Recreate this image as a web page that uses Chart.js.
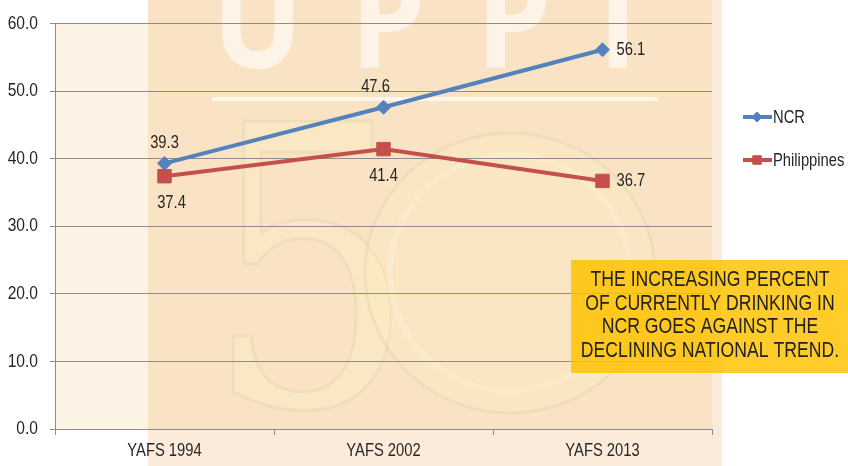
<!DOCTYPE html>
<html>
<head>
<meta charset="utf-8">
<script src="https://cdn.jsdelivr.net/npm/chart.js@4/dist/chart.umd.min.js"></script>
<style>
  html, body { margin: 0; padding: 0; background: #fff; }
  #wrap { width: 848px; height: 466px; position: relative; }
</style>
</head>
<body>
<div id="wrap"><canvas id="drinkChart" width="848" height="466"></canvas></div>
<script>
// YAFS: percent currently drinking
const surveys = ['YAFS 1994', 'YAFS 2002', 'YAFS 2013'];
const ncrValues = [39.3, 47.6, 56.1];
const phValues = [37.4, 41.4, 36.7];
const yTicks = [0, 10, 20, 30, 40, 50, 60];
const noteLines = [
    'THE INCREASING PERCENT',
    'OF CURRENTLY DRINKING IN',
    'NCR GOES AGAINST THE',
    'DECLINING NATIONAL TREND.'
];

const FONT = '"Liberation Sans", Arial, sans-serif';
const NARROW = 0.82;   // squeeze text horizontally, like a narrow face
const TEXT = '#262626';
const GRID = '#8c8c8c';

function narrowText(ctx, text, x, y, size, align) {
    ctx.save();
    ctx.font = size + 'px ' + FONT;
    ctx.textAlign = align;
    ctx.textBaseline = 'middle';
    ctx.translate(x, y);
    ctx.scale(NARROW, 1);
    ctx.fillText(text, 0, 0);
    ctx.restore();
}

// seal in the background (peach band, UPPI letters, the big "50")
const backdrop = {
    id: 'backdrop',
    beforeDraw(chart) {
        const {ctx, chartArea: a} = chart;
        const bandL = 148, bandR = 722;
        ctx.save();
        ctx.fillStyle = '#FBEBDA';
        ctx.fillRect(bandL, 0, bandR - bandL, chart.height);
        ctx.fillStyle = '#F9E3C4';
        ctx.fillRect(bandL, 0, a.right - bandL, a.bottom);
        ctx.fillStyle = '#FDF3E5';
        ctx.fillRect(a.left, a.top, bandL - a.left, a.bottom - a.top);

        ctx.beginPath();
        ctx.rect(bandL, 0, bandR - bandL, chart.height);
        ctx.clip();

        // big "5"
        ctx.font = '400 390px "DejaVu Serif", serif';
        ctx.textAlign = 'left';
        ctx.textBaseline = 'alphabetic';
        ctx.save();
        ctx.translate(205, 405);
        ctx.scale(0.85, 1);
        ctx.fillStyle = 'rgba(252, 238, 195, 0.4)';
        ctx.fillText('5', 0, 0);
        ctx.lineWidth = 3;
        ctx.strokeStyle = 'rgba(190, 180, 140, 0.16)';
        ctx.strokeText('5', 0, 0);
        ctx.restore();

        // round seal
        ctx.beginPath();
        ctx.ellipse(510, 273, 145, 140, 0, 0, Math.PI * 2);
        ctx.fillStyle = 'rgba(252, 238, 190, 0.3)';
        ctx.fill();
        ctx.lineWidth = 3;
        ctx.strokeStyle = 'rgba(190, 180, 140, 0.16)';
        ctx.stroke();
        ctx.beginPath();
        ctx.ellipse(510, 273, 120, 118, 0, 0, Math.PI * 2);
        ctx.lineWidth = 6;
        ctx.strokeStyle = 'rgba(255, 250, 225, 0.3)';
        ctx.stroke();

        // UPPI letters across the top
        ctx.font = '700 140px "Open Sans", sans-serif';
        ctx.fillStyle = 'rgba(255, 255, 255, 0.6)';
        [['U', 212], ['P', 350], ['P', 476], ['I', 598]].forEach(([ch, x]) => {
            ctx.save();
            ctx.translate(x, 68);
            ctx.scale(0.86, 1);
            ctx.fillText(ch, 0, 0);
            ctx.restore();
        });
        ctx.fillStyle = 'rgba(255, 255, 255, 0.7)';
        ctx.fillRect(212, 97, 446, 4);
        ctx.restore();
    }
};

// axis tick labels in the narrow face
const tickText = {
    id: 'tickText',
    afterDraw(chart) {
        const ctx = chart.ctx;
        ctx.fillStyle = TEXT;
        const ys = chart.scales.y;
        ys.ticks.forEach((t, i) => {
            narrowText(ctx, t.value.toFixed(1), ys.right - 17, ys.getPixelForTick(i), 19, 'right');
        });
        const xs = chart.scales.x;
        xs.ticks.forEach((t, i) => {
            narrowText(ctx, surveys[i], xs.getPixelForTick(i), xs.top + 22, 18, 'center');
        });
    }
};

// value labels next to each marker
const valueLabels = {
    id: 'valueLabels',
    afterDatasetsDraw(chart) {
        const ctx = chart.ctx;
        ctx.fillStyle = TEXT;
        chart.data.datasets.forEach((ds, i) => {
            chart.getDatasetMeta(i).data.forEach((pt, j) => {
                const txt = ds.data[j].toFixed(1);
                const pos = ds.labelPos[j];
                let x = pt.x + ds.labelDx[j], y = pt.y;
                if (pos === 'right') {
                    narrowText(ctx, txt, x + 14, y, 18, 'left');
                } else if (pos === 'top') {
                    narrowText(ctx, txt, x, y - 20, 18, 'center');
                } else {
                    narrowText(ctx, txt, x, y + 27, 18, 'center');
                }
            });
        });
    }
};

// legend on the right: line with marker, then series name
const sideLegend = {
    id: 'sideLegend',
    afterDraw(chart) {
        const ctx = chart.ctx;
        chart.data.datasets.forEach((ds, i) => {
            const y = 117 + i * 43;
            ctx.save();
            ctx.strokeStyle = ds.borderColor;
            ctx.lineWidth = 4;
            ctx.beginPath();
            ctx.moveTo(743, y);
            ctx.lineTo(772, y);
            ctx.stroke();
            ctx.fillStyle = ds.borderColor;
            ctx.lineWidth = 1;
            Chart.helpers.drawPoint(ctx, {
                pointStyle: ds.pointStyle,
                radius: ds.pointStyle === 'rect' ? 6 : 5,
                borderWidth: 1
            }, 757, y);
            ctx.restore();
            ctx.fillStyle = TEXT;
            narrowText(ctx, ds.label, 773, y + 1, 18, 'left');
        });
    }
};

// yellow note box
const noteBox = {
    id: 'noteBox',
    afterDraw(chart) {
        const ctx = chart.ctx;
        ctx.save();
        ctx.fillStyle = 'rgba(255, 194, 0, 0.84)';
        ctx.fillRect(571, 260, 277, 113);
        ctx.fillStyle = '#222';
        noteLines.forEach((line, i) => {
            narrowText(ctx, line, 710, 280 + i * 23.6, 21.5, 'center');
        });
        ctx.restore();
    }
};

const ctx = document.getElementById('drinkChart');
new Chart(ctx, {
    type: 'line',
    data: {
        labels: surveys,
        datasets: [{
            label: 'NCR',
            data: ncrValues,
            borderColor: '#5382BC',
            backgroundColor: '#5382BC',
            borderWidth: 4,
            pointStyle: 'rectRot',
            pointRadius: 7,
            pointBorderWidth: 1,
            tension: 0,
            fill: false,
            labelPos: ['top', 'top', 'right'],
            labelDx: [0, -8, 0]
        }, {
            label: 'Philippines',
            data: phValues,
            borderColor: '#C4504C',
            backgroundColor: '#C4504C',
            borderWidth: 4,
            pointStyle: 'rect',
            pointRadius: 9.5,
            pointBorderWidth: 1,
            tension: 0,
            fill: false,
            labelPos: ['bottom', 'bottom', 'right'],
            labelDx: [7, 0, 0]
        }]
    },
    options: {
        responsive: false,
        animation: false,
        devicePixelRatio: 1,
        layout: {
            padding: {left: 0, right: 136, top: 21, bottom: 0}
        },
        plugins: {
            legend: {display: false},
            tooltip: {enabled: false}
        },
        scales: {
            x: {
                offset: true,
                grid: {
                    display: true,
                    drawOnChartArea: false,
                    offset: true,
                    tickLength: 6,
                    color: GRID
                },
                border: {color: GRID},
                ticks: {
                    font: {family: FONT, size: 18},
                    color: 'rgba(0,0,0,0)',
                    padding: 6,
                    maxRotation: 0
                },
                afterFit(scale) {
                    scale.height = 37;
                }
            },
            y: {
                min: yTicks[0],
                max: yTicks[yTicks.length - 1],
                grid: {color: GRID, tickLength: 5},
                border: {color: GRID},
                ticks: {
                    stepSize: yTicks[1] - yTicks[0],
                    font: {family: FONT, size: 19},
                    color: 'rgba(0,0,0,0)',
                    padding: 12,
                    callback: v => v.toFixed(1)
                },
                afterFit(scale) {
                    scale.width = 55;
                }
            }
        }
    },
    plugins: [backdrop, valueLabels, tickText, sideLegend, noteBox]
});
</script>
</body>
</html>
